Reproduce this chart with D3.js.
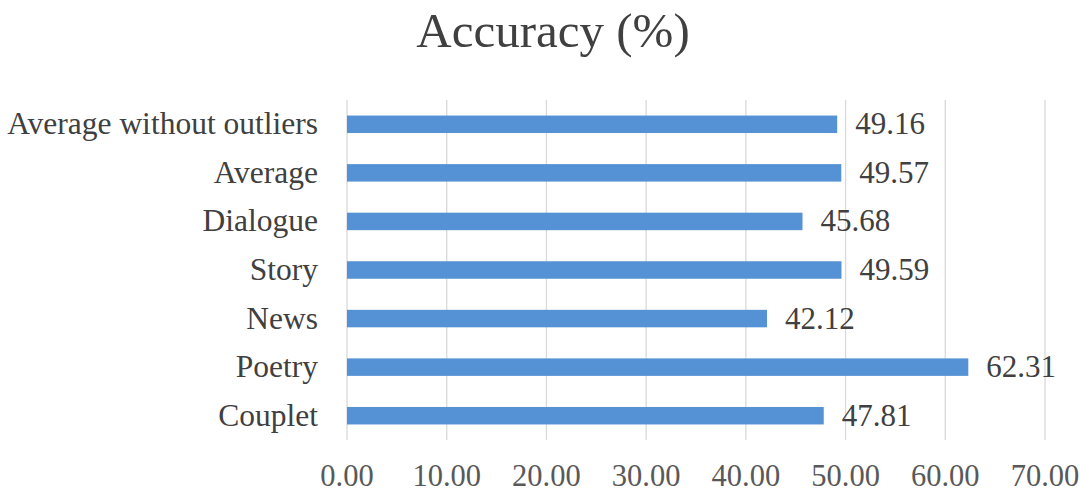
<!DOCTYPE html>
<html><head><meta charset="utf-8">
<script src="https://cdn.jsdelivr.net/npm/d3@7"></script>
<style>body{margin:0;background:#fff}</style>
</head><body>
<svg id="c" width="1080" height="498"></svg>
<script>
const categories = ["Average without outliers","Average","Dialogue","Story","News","Poetry","Couplet"];
const values = [49.16,49.57,45.68,49.59,42.12,62.31,47.81];
const ticks = [0,10,20,30,40,50,60,70];
const title = "Accuracy (%)";

const svg = d3.select("#c");
const font = "'Liberation Serif','Times New Roman',serif";
const m = {left:347, right:1045, top:100, bottom:440};
const x = d3.scaleLinear().domain([0,70]).range([m.left,m.right]);
const y = d3.scaleBand().domain(categories).range([m.top,m.bottom]).paddingInner(0.64).paddingOuter(0.32);

svg.append("text").attr("x",553).attr("y",47).attr("text-anchor","middle")
  .attr("font-family",font).attr("font-size",49).attr("fill","#404040").text(title);

svg.append("g").selectAll("line").data(ticks).join("line")
  .attr("x1",d=>x(d)).attr("x2",d=>x(d)).attr("y1",m.top).attr("y2",m.bottom)
  .attr("stroke","#d9d9d9").attr("stroke-width",1.3);

svg.append("g").selectAll("text").data(ticks).join("text")
  .attr("x",d=>x(d)).attr("y",486).attr("text-anchor","middle")
  .attr("font-family",font).attr("font-size",30.5).attr("fill","#595959")
  .text(d=>d3.format(".2f")(d));

svg.append("g").selectAll("rect").data(values).join("rect")
  .attr("x",x(0)).attr("y",(d,i)=>y(categories[i]))
  .attr("width",d=>x(d)-x(0)).attr("height",y.bandwidth())
  .attr("fill","#5592d5");

svg.append("g").selectAll("text").data(categories).join("text")
  .attr("x",318).attr("y",d=>y(d)+y.bandwidth()/2+10)
  .attr("text-anchor","end").attr("font-family",font).attr("font-size",31.5).attr("fill","#404040")
  .text(d=>d);

svg.append("g").selectAll("text").data(values).join("text")
  .attr("x",d=>x(d)+18).attr("y",(d,i)=>y(categories[i])+y.bandwidth()/2+10)
  .attr("font-family",font).attr("font-size",31).attr("fill","#404040")
  .text(d=>d3.format(".2f")(d));
</script>
</body></html>
